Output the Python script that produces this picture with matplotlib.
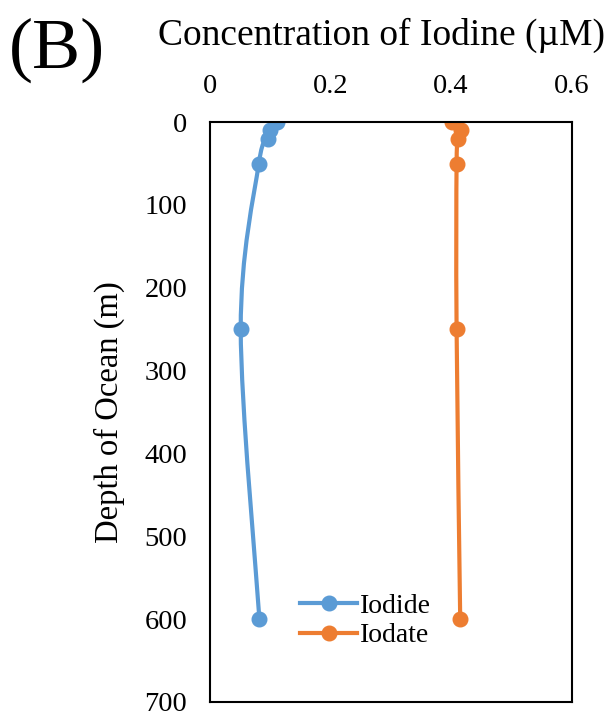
import numpy as np
import matplotlib.pyplot as plt
from matplotlib.path import Path
from matplotlib.patches import PathPatch

plt.rcParams['font.family'] = ['Liberation Serif', 'DejaVu Serif']

depth = [0, 10, 20, 50, 250, 600]
iodide = [0.111, 0.100, 0.097, 0.081, 0.051, 0.082]
iodate = [0.401, 0.417, 0.412, 0.409, 0.409, 0.415]

xticks = [0, 0.2, 0.4, 0.6]
yticks = [0, 100, 200, 300, 400, 500, 600, 700]

blue = '#5B9BD5'
orange = '#ED7D31'

fig = plt.figure(figsize=(6.06, 7.15), dpi=100)
ax = fig.add_axes([0.3465, 0.0182, 0.597, 0.811])
ax.set_xlim(0, 0.6)
ax.set_ylim(700, 0)


def smooth_path(xs, ys, sx, sy):
    # excel-like smoothed line: cardinal spline as cubic beziers
    p = np.column_stack([np.array(xs) / sx, np.array(ys) / sy])
    verts = [p[0]]
    codes = [Path.MOVETO]
    n = len(p)
    t = 1 / 6
    for i in range(n - 1):
        p0 = p[i - 1] if i > 0 else p[i]
        p1 = p[i]
        p2 = p[i + 1]
        p3 = p[i + 2] if i + 2 < n else p[i + 1]
        c1 = p1 + (p2 - p0) * t
        c2 = p2 - (p3 - p1) * t
        verts += [c1, c2, p2]
        codes += [Path.CURVE4] * 3
    verts = np.array(verts) * [sx, sy]
    return Path(verts, codes)


for vals, col, name in [(iodide, blue, 'Iodide'), (iodate, orange, 'Iodate')]:
    ax.add_patch(PathPatch(smooth_path(vals, depth, 0.6, 700 * 1.6),
                           facecolor='none', edgecolor=col, lw=3))
    ax.plot(vals, depth, 'o', color=col, ms=10.5, label=name)
    ax.plot([], [], '-o', color=col, lw=3, ms=10.5, label=name)

h, l = ax.get_legend_handles_labels()
ax.legend([h[1], h[3]], [l[1], l[3]], loc='center', bbox_to_anchor=(0.43, 0.14),
          frameon=False, fontsize=20, handlelength=2.05, handletextpad=0.1,
          labelspacing=0.15, borderpad=0)

ax.xaxis.tick_top()
ax.set_xticks(xticks)
ax.set_xticklabels(['0', '0.2', '0.4', '0.6'])
ax.set_yticks(yticks)
ax.tick_params(length=0, labelsize=20.5)
ax.tick_params(axis='x', pad=17)
ax.tick_params(axis='y', pad=16.5)
for s in ax.spines.values():
    s.set_linewidth(1.5)
    s.set_color('black')

ax.set_ylabel('Depth of Ocean (m)', fontsize=23.5, labelpad=14)
fig.text(0.63, 0.951, 'Concentration of Iodine (\u00b5M)', fontsize=27,
         ha='center', va='center')
fig.text(0.015, 0.93, '(B)', fontsize=52, ha='left', va='center')

fig.savefig('out.png', dpi=100)
